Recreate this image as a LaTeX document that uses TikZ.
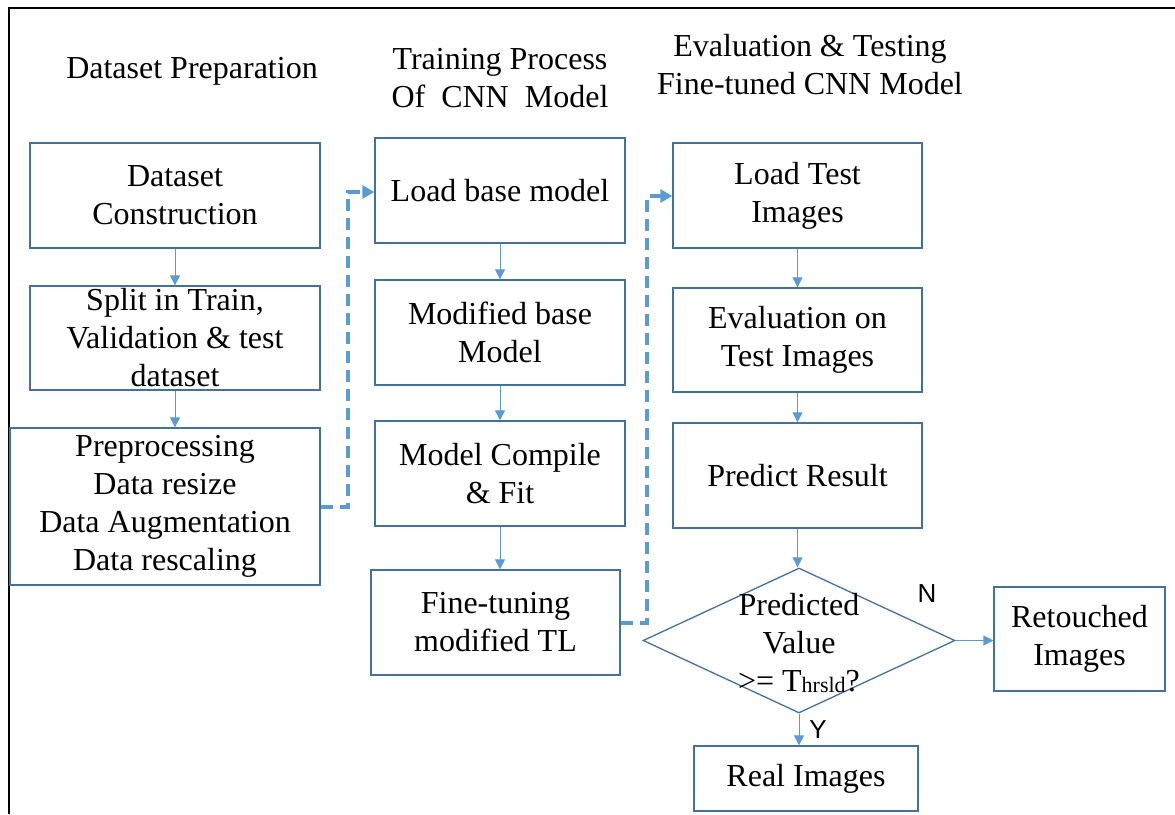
\documentclass[tikz,border=0pt]{standalone}
\usepackage{fontspec}
\setmainfont{Liberation Serif}
\newfontfamily\arialfont{Liberation Sans}
\usetikzlibrary{arrows.meta,shapes.geometric}
\definecolor{boxc}{HTML}{41719C}
\definecolor{arrc}{HTML}{5B9BD5}
\tikzset{
  stepbox/.style={draw=boxc,line width=1.3pt,inner sep=0pt,align=center,
    font=\fontsize{32}{38}\selectfont},
  titletext/.style={align=center,font=\fontsize{32}{38}\selectfont},
  flowarrow/.style={draw=arrc,line width=1pt,-{Triangle[length=10pt,width=10pt]}},
  dasharrow/.style={draw=arrc,line width=3.5pt,dash pattern=on 12pt off 7pt,
    -{Triangle[length=12pt,width=13pt]}},
  yn/.style={font=\arialfont\fontsize{26}{28}\selectfont}
}
\begin{document}
\begin{tikzpicture}[x=1pt,y=-1pt]
\useasboundingbox (0,0) rectangle (1175,814);
% frame
\draw[line width=2pt] (9,814) -- (9,8) -- (1176,8);
% titles
\node[titletext] (t1) at (192,71) {Dataset Preparation};
\node[titletext] (t2) at (500,78) {Training Process\\Of\ \ CNN\ \ Model};
\node[titletext] (t3) at (810,65) {Evaluation \& Testing\\Fine-tuned CNN Model};
% left column
\node[stepbox,minimum width=290pt,minimum height=105pt] (dc) at (175,195.5) {Dataset\\Construction};
\node[stepbox,minimum width=290pt,minimum height=104pt] (split) at (175,338) {Split in Train,\\Validation \& test\\dataset};
\node[stepbox,minimum width=310pt,minimum height=157pt] (pre) at (165,506.5) {Preprocessing\\Data resize\\Data Augmentation\\Data rescaling};
% middle column
\node[stepbox,minimum width=250pt,minimum height=105pt] (lb) at (500,190.5) {Load base model};
\node[stepbox,minimum width=250pt,minimum height=105pt] (mb) at (500,332.5) {Modified base\\Model};
\node[stepbox,minimum width=250pt,minimum height=105pt] (mc) at (500,473.5) {Model Compile\\\& Fit};
\node[stepbox,minimum width=249pt,minimum height=105pt] (ft) at (495.5,622.5) {Fine-tuning\\modified TL};
% right column
\node[stepbox,minimum width=249pt,minimum height=105pt] (lt) at (797.5,195.5) {Load Test\\Images};
\node[stepbox,minimum width=249pt,minimum height=104pt] (ev) at (797.5,340) {Evaluation on\\Test Images};
\node[stepbox,minimum width=249pt,minimum height=105pt] (pr) at (797.5,475.5) {Predict Result};
\node[diamond,draw=boxc,line width=1.3pt,inner sep=0pt,minimum width=312pt,minimum height=145pt] (dia) at (799,640.5) {};
\node[align=center,font=\fontsize{32}{38}\selectfont] (diat) at (799,643)
  {Predicted\\Value\\>= T{\fontsize{22}{22}\selectfont\raisebox{-1pt}{hrsld}}?};
\node[stepbox,minimum width=171pt,minimum height=104pt] (ret) at (1079.5,639) {Retouched\\Images};
\node[stepbox,minimum width=224pt,minimum height=65pt] (real) at (806,778.5) {Real Images};
\node[yn] (nl) at (927,594) {N};
\node[yn] (yl) at (818,730) {Y};
% solid arrows
\draw[flowarrow] (dc.south) -- (split.north);
\draw[flowarrow] (split.south) -- (split.south |- pre.north);
\draw[flowarrow] (lb.south) -- (mb.north);
\draw[flowarrow] (mb.south) -- (mc.north);
\draw[flowarrow] (mc.south) -- (mc.south |- ft.north);
\draw[flowarrow] (lt.south) -- (lt.south |- ev.north);
\draw[flowarrow] (ev.south) -- (ev.south |- pr.north);
\draw[flowarrow] (pr.south) -- (pr.south |- dia.north);
\draw[flowarrow] (dia.south) -- (dia.south |- real.north);
\draw[flowarrow] (dia.east) -- (dia.east -| ret.west);
% dashed connectors
\coordinate (d1a) at (348,507);
\coordinate (d1b) at (348,192);
\draw[dasharrow] (pre.east |- d1a) -- (d1a) -- (d1b) -- (d1b -| lb.west);
\coordinate (d2a) at (647,623);
\coordinate (d2b) at (647,196);
\draw[dasharrow] (ft.east |- d2a) -- (d2a) -- (d2b) -- (d2b -| lt.west);
\end{tikzpicture}
\end{document}
